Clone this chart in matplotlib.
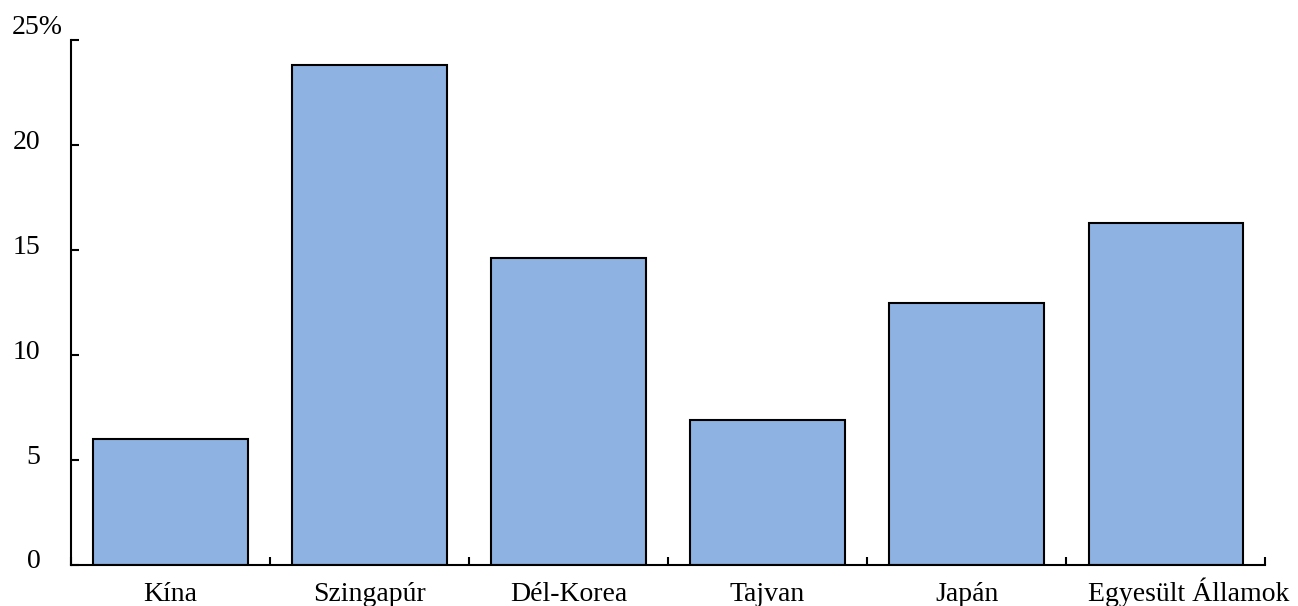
import matplotlib.pyplot as plt
import matplotlib.transforms as mtransforms
import numpy as np

# data (percent)
orszagok = ['Kína', 'Szingapúr', 'Dél-Korea', 'Tajvan', 'Japán', 'Egyesült Államok']
ertekek = [6.0, 23.8, 14.6, 6.9, 12.5, 16.3]
y_ticks = [0, 5, 10, 15, 20, 25]

plt.rcParams['font.family'] = ['Liberation Serif', 'DejaVu Serif']
plt.rcParams['font.size'] = 20

fig = plt.figure(figsize=(12.98, 6.06), dpi=100)
ax = fig.add_axes([0.0547, 0.0677, 0.92, 0.866])

x = np.arange(len(orszagok))
ax.bar(x, ertekek, width=0.775, color='#8EB3E2', edgecolor='black', linewidth=1.5)

ax.set_xlim(-0.5, len(orszagok) - 0.5)
ax.set_ylim(0, 25)

# spines
for s in ['top', 'right']:
    ax.spines[s].set_visible(False)
for s in ['left', 'bottom']:
    ax.spines[s].set_linewidth(1.5)

# x axis: labels under bars, ticks at the category borders
ax.set_xticks(x)
ax.set_xticklabels(orszagok, va='baseline')
ax.tick_params(axis='x', which='major', length=0, pad=26)
ax.set_xticks(np.arange(len(orszagok) + 1) - 0.5, minor=True)
ax.tick_params(axis='x', which='minor', direction='in', length=6, width=1.5)
# last label sits a bit to the right in the original
last = ax.get_xticklabels()[-1]
last.set_transform(last.get_transform() + mtransforms.ScaledTranslation(0.23, 0, fig.dpi_scale_trans))

# y axis
ax.set_yticks(y_ticks)
ax.set_yticklabels([str(v) for v in y_ticks[:-1]] + [''])
ax.tick_params(axis='y', direction='in', length=6, width=1.5, pad=22)
off = mtransforms.ScaledTranslation(0, 6 / 100, fig.dpi_scale_trans)
for lbl in ax.get_yticklabels():
    lbl.set_transform(lbl.get_transform() + off)

# the top label carries the unit
fig.text(12 / 1298, 1 - 27 / 606, '25%', ha='left', va='center')

plt.savefig('out.png', dpi=100)
